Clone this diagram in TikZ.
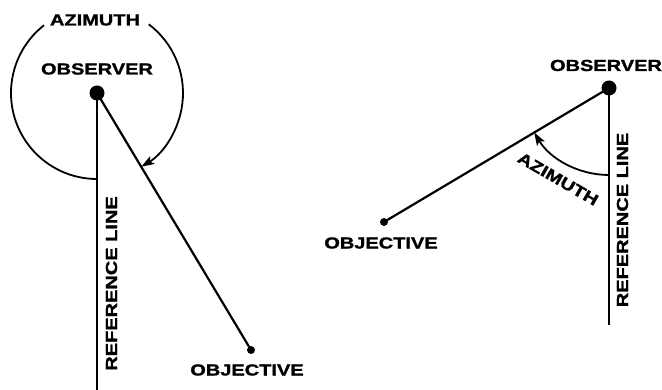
\documentclass[tikz,border=0pt]{standalone}
\usepackage{fontspec}
\newfontfamily\labfont{Liberation Sans Bold}[FakeBold=1.2]
\usepackage{graphicx}
\usetikzlibrary{arrows.meta}
\newcommand{\wide}[1]{\scalebox{1.25}[1]{#1}}
\tikzset{
  lab/.style={font=\fontsize{16}{16}\labfont, inner sep=0.5pt},
  bigdot/.style={circle, fill=black, inner sep=0pt, minimum size=15pt},
  smalldot/.style={circle, fill=black, inner sep=0pt, minimum size=8pt},
  ln/.style={line width=2.2pt},
  azarc/.style={line width=1.8pt},
  aztip/.style={-{Stealth[length=13pt,width=9pt,inset=3pt]}}
}
\begin{document}
\begin{tikzpicture}[x=1pt,y=1pt]
\useasboundingbox (0,0) rectangle (662,390);
% ---------- left figure ----------
\node[bigdot] (obs1) at (97,297) {};
\node[smalldot] (obj1) at (251,40) {};
\coordinate (ref1) at (97,0);
\draw[ln] (obs1.center) -- (ref1);
\draw[ln] (obs1.center) -- (obj1.center);
\draw[azarc] ([shift={(-90:86pt)}]obs1.center) arc[start angle=-90,end angle=-232,radius=86pt];
\draw[azarc,aztip] ([shift={(53:86pt)}]obs1.center) arc[start angle=53,end angle=-59,radius=86pt];
\node[lab] (az1) at (95,370) {\wide{AZIMUTH}};
\node[lab] (obsl1) at (97,321) {\wide{OBSERVER}};
\node[lab, rotate=90] (refl1) at (111.5,106.5) {\wide{REFERENCE LINE}};
\node[lab] (objl1) at (247,20) {\wide{OBJECTIVE}};
% ---------- right figure ----------
\node[bigdot] (obs2) at (609,302) {};
\node[smalldot] (obj2) at (384,168) {};
\coordinate (ref2) at (609,65);
\draw[ln] (obs2.center) -- (ref2);
\draw[ln] (obs2.center) -- (obj2.center);
\draw[azarc,aztip] ([shift={(-90:87pt)}]obs2.center) arc[start angle=-90,end angle=-149.2,radius=87pt];
\node[lab, rotate=-30] (az2) at (558,211) {\wide{AZIMUTH}};
\node[lab] (obsl2) at (606,324.5) {\wide{OBSERVER}};
\node[lab, rotate=90] (refl2) at (622.5,170) {\wide{REFERENCE LINE}};
\node[lab] (objl2) at (381,147) {\wide{OBJECTIVE}};
\end{tikzpicture}
\end{document}
